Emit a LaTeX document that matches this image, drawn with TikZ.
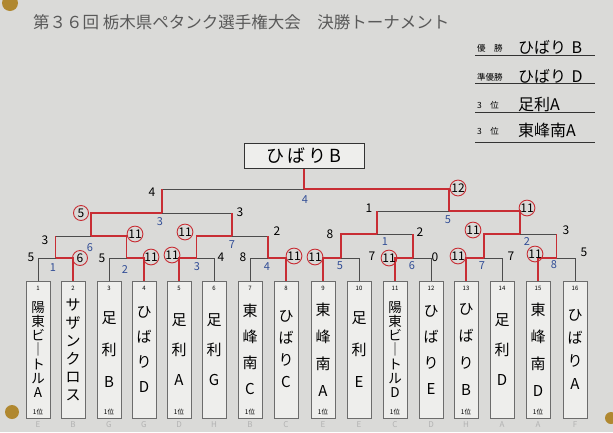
\documentclass[tikz,border=0pt]{standalone}
\usepackage{fontspec}
\setmainfont{Noto Sans CJK JP}
\usepackage{graphicx}
\usepackage{tikz}
\usetikzlibrary{positioning}
\definecolor{paper}{RGB}{218,218,216}
\definecolor{strip}{RGB}{238,238,236}
\definecolor{pen}{RGB}{200,45,52}
\definecolor{ink}{RGB}{50,78,150}
\definecolor{tack}{RGB}{176,136,48}
\tikzset{
  team/.style={draw=gray!85!black, fill=strip, line width=.6pt, minimum width=24, minimum height=137, inner sep=0},
  tname/.style={font=\fontsize{15}{#1}\selectfont, align=center, inner sep=0},
  tlong/.style={font=\fontsize{13.5}{14.2}\selectfont, align=center, inner sep=0},
  tno/.style={font=\fontsize{6}{6}\selectfont, inner sep=0},
  rank/.style={font=\fontsize{6.5}{6.5}\selectfont, inner sep=0},
  slot/.style={font=\fontsize{8}{8}\selectfont, text=gray!60, inner sep=0},
  lose/.style={draw=black!70, line width=.6pt},
  win/.style={draw=pen, line width=1.8pt},
  score/.style={font=\fontsize{12}{12}\selectfont, inner sep=0},
  won/.style={score, circle, draw=pen, line width=.9pt, minimum size=15},
  match/.style={font=\fontsize{11}{11}\selectfont\itshape, text=ink, inner sep=0},
  champ/.style={draw=black!80, line width=.8pt, fill=strip, minimum width=120, minimum height=25, font=\fontsize{18}{18}\selectfont},
  small/.style={font=\fontsize{8.5}{8.5}\selectfont, anchor=west, inner sep=0},
  big/.style={font=\fontsize{16}{16}\selectfont, anchor=west, inner sep=0}
}
\begin{document}
\begin{tikzpicture}[x=1pt, y=-1pt]

        \fill[paper] (0,0) rectangle (613,432);
        \useasboundingbox (0,0) rectangle (613,432);
        \fill[tack] (10,3) circle (8);
        \fill[tack] (12,412) circle (7);
        \fill[tack] (611,418) circle (6);

        \node[anchor=west, font=\fontsize{16.5}{16.5}\selectfont, text=black!65, inner sep=0] (title) at (33,22) {第３６回 栃木県ペタンク選手権大会　決勝トーナメント};

        \begin{scope}[every node/.style={small}]
          \node (p1) at (477,48)  {優　勝};
          \node (p2) at (477,77)  {準優勝};
          \node (p3) at (477,105) {3　位};
          \node (p4) at (477,131) {3　位};
        \end{scope}
        \begin{scope}[every node/.style={big}]
          \node (w1) at (518,47)  {ひばり\,\,B};
          \node (w2) at (518,76)  {ひばり\,\,D};
          \node (w3) at (518,104) {足利A};
          \node (w4) at (518,130) {東峰南A};
        \end{scope}
        \draw[black!80, line width=.7pt] (475,55) -- (595,55) (475,83) -- (595,83)
          (475,112) -- (595,112) (475,142) -- (595,142);

        \begin{scope}[every node/.style={team}]
          \node (t1)  at (38,349.5)  {};
          \node (t2)  at (73,349.5)  {};
          \node (t3)  at (109,349.5) {};
          \node (t4)  at (144,349.5) {};
          \node (t5)  at (179,349.5) {};
          \node (t6)  at (214,349.5) {};
          \node (t7)  at (250,349.5) {};
          \node (t8)  at (286,349.5) {};
          \node (t9)  at (323,349.5) {};
          \node (t10) at (359,349.5) {};
          \node (t11) at (395,349.5) {};
          \node (t12) at (431,349.5) {};
          \node (t13) at (466,349.5) {};
          \node (t14) at (502,349.5) {};
          \node (t15) at (538,349.5) {};
          \node (t16) at (575,349.5) {};
        \end{scope}

        \node[tlong]      (n1)  at (t1)  {陽\\東\\ビ\\｜\\ト\\ル\\A};
        \node[tname=18]   (n2)  at (t2)  {サ\\ザ\\ン\\ク\\ロ\\ス};
        \node[tname=32]   (n3)  at (t3)  {足\\利\\B};
        \node[tname=25]   (n4)  at (t4)  {ひ\\ば\\り\\D};
        \node[tname=30]   (n5)  at (t5)  {足\\利\\A};
        \node[tname=30]   (n6)  at (t6)  {足\\利\\G};
        \node[tname=26]   (n7)  at (t7)  {東\\峰\\南\\C};
        \node[tname=22]   (n8)  at (t8)  {ひ\\ば\\り\\C};
        \node[tname=27]   (n9)  at (t9)  {東\\峰\\南\\A};
        \node[tname=32]   (n10) at (t10) {足\\利\\E};
        \node[tlong]      (n11) at (t11) {陽\\東\\ビ\\｜\\ト\\ル\\D};
        \node[tname=26]   (n12) at (t12) {ひ\\ば\\り\\E};
        \node[tname=27]   (n13) at (t13) {ひ\\ば\\り\\B};
        \node[tname=30]   (n14) at (t14) {足\\利\\D};
        \node[tname=27]   (n15) at (t15) {東\\峰\\南\\D};
        \node[tname=23]   (n16) at (t16) {ひ\\ば\\り\\A};

        \begin{scope}[every node/.style={tno}]
          \node[below=5pt of t1.north]  (k1)  {1};
          \node[below=5pt of t2.north]  (k2)  {2};
          \node[below=5pt of t3.north]  (k3)  {3};
          \node[below=5pt of t4.north]  (k4)  {4};
          \node[below=5pt of t5.north]  (k5)  {5};
          \node[below=5pt of t6.north]  (k6)  {6};
          \node[below=5pt of t7.north]  (k7)  {7};
          \node[below=5pt of t8.north]  (k8)  {8};
          \node[below=5pt of t9.north]  (k9)  {9};
          \node[below=5pt of t10.north] (k10) {10};
          \node[below=5pt of t11.north] (k11) {11};
          \node[below=5pt of t12.north] (k12) {12};
          \node[below=5pt of t13.north] (k13) {13};
          \node[below=5pt of t14.north] (k14) {14};
          \node[below=5pt of t15.north] (k15) {15};
          \node[below=5pt of t16.north] (k16) {16};
        \end{scope}

        \begin{scope}[every node/.style={rank}]
          \node[above=3pt of t1.south]  (r1)  {1位};
          \node[above=3pt of t3.south]  (r3)  {1位};
          \node[above=3pt of t5.south]  (r5)  {1位};
          \node[above=3pt of t7.south]  (r7)  {1位};
          \node[above=3pt of t9.south]  (r9)  {1位};
          \node[above=3pt of t11.south] (r11) {1位};
          \node[above=3pt of t13.south] (r13) {1位};
          \node[above=3pt of t15.south] (r15) {1位};
        \end{scope}

        \begin{scope}[every node/.style={slot}]
          \node[below=3pt of t1.south]  (l1)  {E};
          \node[below=3pt of t2.south]  (l2)  {B};
          \node[below=3pt of t3.south]  (l3)  {G};
          \node[below=3pt of t4.south]  (l4)  {G};
          \node[below=3pt of t5.south]  (l5)  {D};
          \node[below=3pt of t6.south]  (l6)  {H};
          \node[below=3pt of t7.south]  (l7)  {B};
          \node[below=3pt of t8.south]  (l8)  {C};
          \node[below=3pt of t9.south]  (l9)  {E};
          \node[below=3pt of t10.south] (l10) {E};
          \node[below=3pt of t11.south] (l11) {C};
          \node[below=3pt of t12.south] (l12) {D};
          \node[below=3pt of t13.south] (l13) {H};
          \node[below=3pt of t14.south] (l14) {A};
          \node[below=3pt of t15.south] (l15) {A};
          \node[below=3pt of t16.south] (l16) {F};
        \end{scope}

        \coordinate (m1) at (55.5,258);
        \coordinate (m2) at (126.5,258);
        \coordinate (m3) at (196.5,258);
        \coordinate (m4) at (268,258);
        \coordinate (m5) at (341,258);
        \coordinate (m6) at (413,258);
        \coordinate (m7) at (484,258);
        \coordinate (m8) at (556.5,258);
        \coordinate (q1) at (91,236);
        \coordinate (q2) at (232,236);
        \coordinate (q3) at (377,234);
        \coordinate (q4) at (520,234);
        \coordinate (s1) at (162,213);
        \coordinate (s2) at (449,211);
        \coordinate (f)  at (304,189);

        \node[champ] (ch) at (304,156) {ひ\,ば\,り\,B};

        \draw[lose] (t1.north) |- (m1);
        \draw[lose] (t3.north) |- (m2);
        \draw[lose] (t6.north) |- (m3);
        \draw[lose] (t7.north) |- (m4);
        \draw[lose] (t10.north) |- (m5);
        \draw[lose] (t12.north) |- (m6);
        \draw[lose] (t14.north) |- (m7);
        \draw[lose] (t16.north) |- (m8);
        \draw[lose] (m1 |- q1) -- (q1);
        \draw[lose] (m4 |- q2) -- (q2);
        \draw[lose] (m6 |- q3) -- (q3);
        \draw[lose] (m8 |- q4) -- (q4);
        \draw[lose] (q2 |- s1) -- (s1);
        \draw[lose] (q3 |- s2) -- (s2);
        \draw[lose] (s1 |- f) -- (f);

        \draw[win] (t2.north) |- (m1);
        \draw[win] (t4.north) |- (m2);
        \draw[win] (t5.north) |- (m3);
        \draw[win] (t8.north) |- (m4);
        \draw[win] (t9.north) |- (m5);
        \draw[win] (t11.north) |- (m6);
        \draw[win] (t13.north) |- (m7);
        \draw[win] (t15.north) |- (m8);
        \draw[win] (m1) -- (m1 |- q1);
        \draw[win] (m2) |- (q1);
        \draw[win] (m3) |- (q2);
        \draw[win] (m4) -- (m4 |- q2);
        \draw[win] (m5) |- (q3);
        \draw[win] (m6) -- (m6 |- q3);
        \draw[win] (m7) |- (q4);
        \draw[win] (m8) -- (m8 |- q4);
        \draw[win] (q1) |- (s1);
        \draw[win] (q2) -- (q2 |- s1);
        \draw[win] (q3) -- (q3 |- s2);
        \draw[win] (q4) |- (s2);
        \draw[win] (s1) -- (s1 |- f);
        \draw[win] (s2) |- (f);
        \draw[win] (f) -- (ch.south);

        \begin{scope}[every node/.style={score}]
          \node (a1)  at (31,257)  {5};
          \node (a3)  at (102,258) {5};
          \node (a6)  at (221,257) {4};
          \node (a7)  at (243,257) {8};
          \node (a10) at (372,256) {7};
          \node (a12) at (435,257) {0};
          \node (a14) at (511,256) {7};
          \node (a16) at (584,252) {5};
          \node (b1)  at (45,240)  {3};
          \node (b4)  at (277,231) {2};
          \node (b5)  at (330,234) {8};
          \node (b6)  at (420,232) {2};
          \node (b8)  at (566,230) {3};
          \node (d2)  at (240,212) {3};
          \node (d3)  at (369,208) {1};
          \node (e1)  at (152,192) {4};
        \end{scope}

        \begin{scope}[every node/.style={won}]
          \node (a2)  at (80,258)  {6};
          \node (a4)  at (151,257) {11};
          \node (a5)  at (172,255) {11};
          \node (a8)  at (294,256) {11};
          \node (a9)  at (315,257) {11};
          \node (a11) at (389,258) {11};
          \node (a13) at (458,256) {11};
          \node (a15) at (535,254) {11};
          \node (b2)  at (135,234) {11};
          \node (b3)  at (185,232) {11};
          \node (b7)  at (473,230) {11};
          \node (d1)  at (81,213)  {5};
          \node (d4)  at (527,208) {11};
          \node (e2)  at (458,188) {12};
        \end{scope}

        \begin{scope}[every node/.style={match}]
          \node (c1)  at (53,268)  {1};
          \node (c2)  at (125,269) {2};
          \node (c3)  at (197,267) {3};
          \node (c4)  at (267,267) {4};
          \node (c5)  at (340,266) {5};
          \node (c6)  at (412,266) {6};
          \node (c7)  at (482,266) {7};
          \node (c8)  at (554,265) {8};
          \node (c9)  at (90,248)  {6};
          \node (c10) at (232,245) {7};
          \node (c11) at (385,242) {1};
          \node (c12) at (527,242) {2};
          \node (c13) at (160,222) {3};
          \node (c14) at (448,220) {5};
          \node (c15) at (305,200) {4};
        \end{scope}
      \end{tikzpicture}
\end{document}
